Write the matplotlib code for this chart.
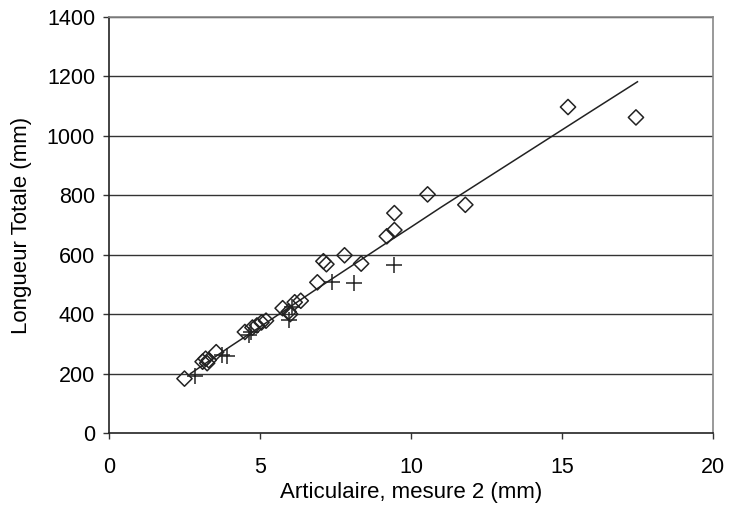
import matplotlib
matplotlib.use("Agg")
import matplotlib.pyplot as plt

plt.rcParams['font.family'] = ['Liberation Sans', 'DejaVu Sans']

# Diamond series
dia_x = [2.5, 3.1, 3.2, 3.25, 3.3, 3.55, 4.5, 4.75, 4.9, 5.05, 5.2, 5.75, 5.95, 6.0, 6.15, 6.35,
         6.9, 7.1, 7.2, 7.8, 8.35, 9.2, 9.45, 9.45, 10.55, 11.8, 15.2, 17.45]
dia_y = [183, 240, 250, 235, 245, 272, 340, 355, 362, 372, 378, 420, 408, 400, 440, 445,
         507, 578, 568, 598, 570, 662, 683, 740, 803, 768, 1097, 1062]

# Cross series
crs_x = [2.85, 3.75, 3.9, 4.65, 4.7, 5.95, 6.05, 7.4, 8.1, 9.45]
crs_y = [192, 262, 258, 330, 340, 380, 425, 507, 506, 565]

# Fitted curve
fit_x = [2.7, 4, 5, 6, 7, 8, 9, 10, 11, 12, 13, 14, 15, 16, 17.5]
fit_y = [200, 290, 357, 425, 493, 560, 627, 693, 760, 825, 890, 955, 1020, 1085, 1182]

x_ticks = [0, 5, 10, 15, 20]
y_ticks = [0, 200, 400, 600, 800, 1000, 1200, 1400]

fig = plt.figure(figsize=(7.29, 5.26), dpi=100)
ax = fig.add_axes([0.1495, 0.1768, 0.8285, 0.7909])

for yv in y_ticks[1:]:
    ax.axhline(yv, color='#333333', lw=1.0, zorder=1)

ax.plot(fit_x, fit_y, color='#222222', lw=1.1, zorder=2)
ax.scatter(dia_x, dia_y, marker='D', s=60, facecolors='none', edgecolors='#222222',
           linewidths=1.1, zorder=3)
ax.scatter(crs_x, crs_y, marker='+', s=130, color='#222222', linewidths=1.1, zorder=3)

ax.set_xlim(0, 20)
ax.set_ylim(0, 1400)
ax.set_xticks(x_ticks)
ax.set_yticks(y_ticks)
ax.tick_params(axis='both', labelsize=15.5, direction='out', length=4, width=1, color='#333333')
ax.tick_params(axis='y', pad=6)
ax.tick_params(axis='x', pad=13)

ax.spines['left'].set_color('#222222')
ax.spines['bottom'].set_color('#222222')
ax.spines['top'].set_color('#888888')
ax.spines['right'].set_color('#888888')
for s in ax.spines.values():
    s.set_linewidth(1.2)

ax.set_xlabel('Articulaire, mesure 2 (mm)', fontsize=16, labelpad=3)
ax.set_ylabel('Longueur Totale (mm)', fontsize=16, labelpad=11)

fig.savefig('out.png', dpi=100)
